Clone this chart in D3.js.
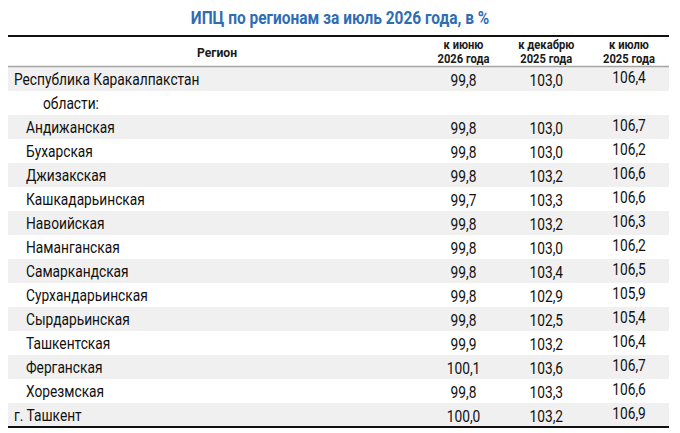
<!DOCTYPE html>
<html>
<head>
<meta charset="utf-8">
<script src="https://cdn.jsdelivr.net/npm/d3@7"></script>
<style>
  html, body { margin: 0; padding: 0; background: #fff; }
  svg { display: block; font-family: Roboto, "Noto Sans", sans-serif; }
</style>
</head>
<body>
<svg id="chart" width="680" height="433"></svg>
<script>
const title = "ИПЦ по регионам за июль 2026 года, в %";
const regionHeader = "Регион";
const columnHeaders = [
    ["к июню", "2026 года"],
    ["к декабрю", "2025 года"],
    ["к июлю", "2025 года"]
];
// level: 0 = flush left, 1 = region, 2 = subheading
const regions = [
    { name: "Республика Каракалпакстан", level: 0 },
    { name: "области:", level: 2 },
    { name: "Андижанская", level: 1 },
    { name: "Бухарская", level: 1 },
    { name: "Джизакская", level: 1 },
    { name: "Кашкадарьинская", level: 1 },
    { name: "Навоийская", level: 1 },
    { name: "Наманганская", level: 1 },
    { name: "Самаркандская", level: 1 },
    { name: "Сурхандарьинская", level: 1 },
    { name: "Сырдарьинская", level: 1 },
    { name: "Ташкентская", level: 1 },
    { name: "Ферганская", level: 1 },
    { name: "Хорезмская", level: 1 },
    { name: "г. Ташкент", level: 0 }
];
const toJune2026 = [99.8, null, 99.8, 99.8, 99.8, 99.7, 99.8, 99.8, 99.8, 99.8, 99.8, 99.9, 100.1, 99.8, 100.0];
const toDec2025  = [103.0, null, 103.0, 103.0, 103.2, 103.3, 103.2, 103.0, 103.4, 102.9, 102.5, 103.2, 103.6, 103.3, 103.2];
const toJuly2025 = [106.4, null, 106.7, 106.2, 106.6, 106.6, 106.3, 106.2, 106.5, 105.9, 105.4, 106.4, 106.7, 106.6, 106.9];

const series = [toJune2026, toDec2025, toJuly2025];

const svg = d3.select("#chart");
const width = 680;
const left = 8, right = 669;
const headerTop = 36, bodyTop = 67, rowH = 24;
const squeeze = 0.86;   // fake a condensed face

const fmt = v => v.toFixed(1).replace(".", ",");

// rows
const y = d3.scaleBand()
    .domain(d3.range(regions.length))
    .range([bodyTop, bodyTop + rowH * regions.length]);

// value columns
const x = d3.scalePoint()
    .domain(d3.range(columnHeaders.length))
    .range([463.5, 629]);

function squeezedText(sel, px, py, k = squeeze) {
    return sel.attr("transform", `translate(${px},${py}) scale(${k},1)`);
}

// title
squeezedText(svg.append("text"), width / 2, 23.5)
    .attr("text-anchor", "middle")
    .attr("fill", "#2f6db3")
    .style("font-size", "18px")
    .style("font-weight", "bold")
    .text(title);

// zebra rows
svg.selectAll(".stripe")
    .data(regions.map((d, i) => i).filter(i => i % 2 === 0))
    .enter()
    .append("rect")
    .attr("class", "stripe")
    .attr("x", left)
    .attr("y", d => y(d))
    .attr("width", right - left)
    .attr("height", y.bandwidth())
    .attr("fill", "#f0f0f0");

// rules
svg.append("line")
    .attr("x1", left).attr("x2", right)
    .attr("y1", headerTop).attr("y2", headerTop)
    .attr("stroke", "#111").attr("stroke-width", 2.2);

svg.append("line")
    .attr("x1", left).attr("x2", right)
    .attr("y1", bodyTop - 0.5).attr("y2", bodyTop - 0.5)
    .attr("stroke", "#a5a5a5").attr("stroke-width", 1.5);

const bottom = y.range()[1];
svg.append("line")
    .attr("x1", left).attr("x2", right)
    .attr("y1", bottom).attr("y2", bottom)
    .attr("stroke", "#111").attr("stroke-width", 2.2);

// header
squeezedText(svg.append("text"), 217, 56.5, 0.9)
    .attr("text-anchor", "middle")
    .attr("fill", "#1a1a1a")
    .style("font-size", "13.5px")
    .style("font-weight", "bold")
    .text(regionHeader);

svg.selectAll(".colhead")
    .data(columnHeaders)
    .enter()
    .append("g")
    .attr("class", "colhead")
    .each(function(d, i) {
        const g = d3.select(this);
        d.forEach((line, k) => {
            squeezedText(g.append("text"), x(i), 48.5 + k * 14.5, 0.86)
                .attr("text-anchor", "middle")
                .attr("fill", "#1a1a1a")
                .style("font-size", "13px")
                .style("font-weight", "bold")
                .text(line);
        });
    });

// region labels
const indent = { 0: 14, 1: 26, 2: 43 };
svg.selectAll(".label")
    .data(regions)
    .enter()
    .append("text")
    .attr("class", "label")
    .attr("text-anchor", "start")
    .attr("fill", "#111")
    .style("font-size", "16px")
    .each(function(d, i) {
        squeezedText(d3.select(this), indent[d.level], y(i) + 17.5);
    })
    .text(d => d.name);

// values
series.forEach((vals, c) => {
    svg.selectAll(".val" + c)
        .data(vals.map((v, i) => ({ v, i })).filter(d => d.v !== null))
        .enter()
        .append("text")
        .attr("class", "val" + c)
        .attr("text-anchor", "middle")
        .attr("fill", "#111")
        .style("font-size", "16px")
        .each(function(d) {
            squeezedText(d3.select(this), x(c), y(d.i) + (c === 2 ? 15.5 : 19));
        })
        .text(d => fmt(d.v));
});
</script>
</body>
</html>
